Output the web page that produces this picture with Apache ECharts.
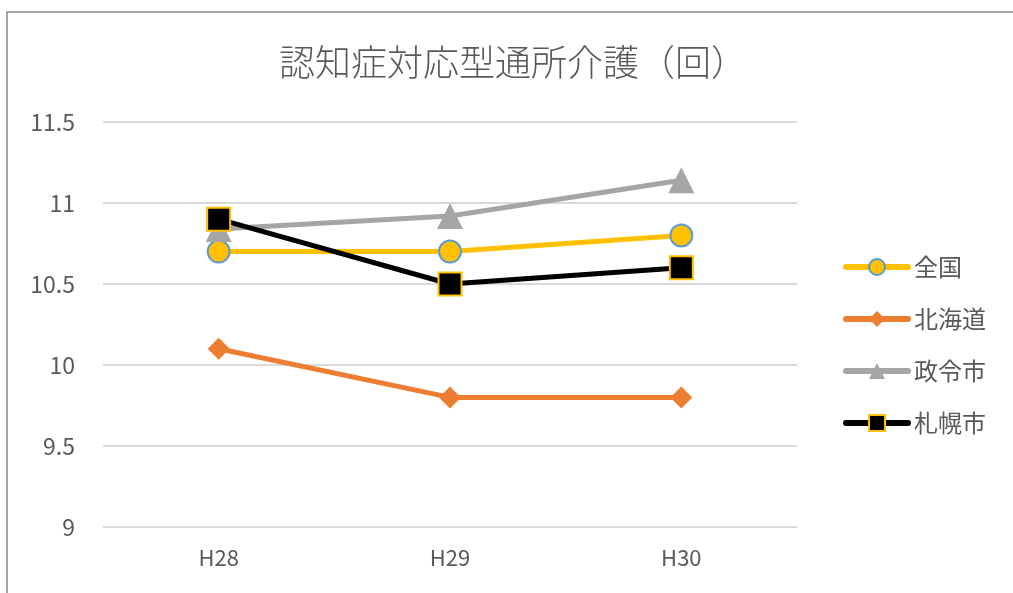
<!DOCTYPE html>
<html><head><meta charset="utf-8">
<script src="https://cdn.jsdelivr.net/npm/echarts@6/dist/echarts.min.js"></script>
<style>html,body{margin:0;padding:0;background:#fff}#c{width:1013px;height:593px}</style>
</head><body><div id="c"></div>
<script>
const categories = ['H28', 'H29', 'H30'];
const zenkoku = [10.7, 10.7, 10.8];
const hokkaido = [10.1, 9.8, 9.8];
const seireishi = [10.84, 10.92, 11.14];
const sapporo = [10.9, 10.5, 10.6];
const yTicks = { min: 9, max: 11.5, interval: 0.5 };

const font = '"Noto Sans CJK JP", "Noto Sans", sans-serif';
const chart = echarts.init(document.getElementById('c'));
chart.setOption({
  animation: false,
  title: {
    text: '認知症対応型通所介護（回）',
    left: 508, top: 39, textAlign: 'center',
    textStyle: { fontFamily: font, fontSize: 36, fontWeight: 300, color: '#595959' }
  },
  graphic: [{
    type: 'rect', shape: { x: 7, y: 12, width: 1030, height: 620 },
    style: { fill: 'none', stroke: '#888', lineWidth: 1.5 }, silent: true
  }],
  legend: {
    orient: 'vertical', left: 838, top: 250,
    itemWidth: 62, itemHeight: 20, itemGap: 28,
    lineStyle: { width: 6, cap: 'round' },
    textStyle: { fontFamily: font, fontSize: 24, color: '#595959', padding: [0,0,0,1] },
    data: ['全国', '北海道', '政令市', '札幌市']
  },
  grid: { left: 103, right: 216, top: 122, bottom: 66, containLabel: false },
  xAxis: {
    type: 'category', data: categories, boundaryGap: true,
    axisLine: { show: false }, axisTick: { show: false },
    axisLabel: { fontFamily: font, fontSize: 22, color: '#595959', margin: 20 }
  },
  yAxis: {
    type: 'value', min: yTicks.min, max: yTicks.max, interval: yTicks.interval,
    axisLine: { show: false }, axisTick: { show: false },
    splitLine: { lineStyle: { color: '#d9d9d9', width: 2 } },
    axisLabel: { fontFamily: font, fontSize: 23, color: '#595959', margin: 28,
      formatter: v => String(v) }
  },
  series: [
    { name: '全国', type: 'line', data: zenkoku, symbol: 'circle', symbolSize: 22,
      lineStyle: { color: '#FFC000', width: 5 },
      itemStyle: { color: '#FFC000', borderColor: '#5B9BD5', borderWidth: 2 } },
    { name: '北海道', type: 'line', data: hokkaido, symbol: 'diamond', symbolSize: 22,
      lineStyle: { color: '#ED7D31', width: 5 },
      itemStyle: { color: '#ED7D31', borderColor: '#ED7D31', borderWidth: 0 } },
    { name: '政令市', type: 'line', data: seireishi, symbol: 'triangle', symbolSize: 26,
      lineStyle: { color: '#A5A5A5', width: 5 },
      itemStyle: { color: '#A5A5A5', borderWidth: 0 } },
    { name: '札幌市', type: 'line', data: sapporo, symbol: 'rect', symbolSize: 23,
      lineStyle: { color: '#000000', width: 5 },
      itemStyle: { color: '#000000', borderColor: '#FFC000', borderWidth: 2 } }
  ]
});
</script></body></html>
